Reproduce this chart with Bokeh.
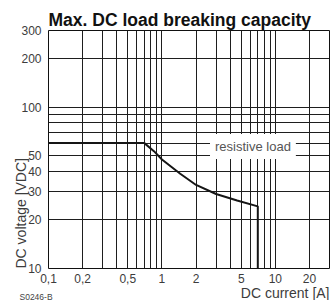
import math
from bokeh.plotting import figure
from bokeh.models import FixedTicker, Label, Title
from bokeh.embed import file_html
from bokeh.resources import INLINE

# --- data ---
current_A = [0.1, 0.7, 0.85, 1.0, 1.45, 2.0, 3.0, 4.6, 7.0, 7.0]
voltage_V = [60, 60, 53.5, 47.5, 38.7, 33.0, 29.0, 26.4, 24.3, 10]

x_ticks = [0.1, 0.2, 0.5, 1, 2, 5, 10, 20]
x_tick_labels = ["0,1", "0,2", "0,5", "1", "2", "5", "10", "20"]
y_ticks = [10, 20, 30, 40, 50, 100, 200, 300]

x_grid = [m * d for d in (0.1, 1) for m in range(1, 10)] + [10, 20, 30]
y_grid = [m * 10 for m in range(1, 10)] + [100, 200, 300]

X0, X1 = 0.1, 30
Y0, Y1 = 10, 300

FONT = "Liberation Sans"


def set_standoff(t, v, fallback=0):
    try:
        t.standoff = v
    except ValueError:
        t.standoff = fallback


p = figure(x_axis_type="log", y_axis_type="log",
           x_range=(X0, X1), y_range=(Y0, Y1),
           frame_width=281, frame_height=238,
           min_border_left=48, min_border_right=1,
           min_border_top=30, min_border_bottom=32,
           output_backend="svg", toolbar_location=None)
p.background_fill_color = "white"
p.border_fill_color = "white"
p.outline_line_color = "#111111"
p.outline_line_width = 1

p.title.text = "Max. DC load breaking capacity"
p.title.align = "left"
p.title.offset = 0
p.title.standoff = 1
p.title.text_font = FONT
p.title.text_font_style = "bold"
p.title.text_font_size = "17.5px"
p.title.text_color = "#111111"

for ax in (p.xaxis, p.yaxis):
    ax.axis_line_color = None
    ax.major_tick_line_color = None
    ax.minor_tick_line_color = None
    ax.major_label_text_font = FONT
    ax.major_label_text_font_size = "12px"
    ax.major_label_text_color = "#3c3c3c"

p.xaxis.ticker = FixedTicker(ticks=x_ticks)
p.xaxis.major_label_overrides = {t: l for t, l in zip(x_ticks, x_tick_labels)}
p.xaxis.major_label_standoff = -1

p.yaxis.ticker = FixedTicker(ticks=y_ticks)
p.yaxis.major_label_overrides = {t: str(t) for t in y_ticks}
p.yaxis.major_label_standoff = 1

p.xgrid.ticker = FixedTicker(ticks=x_grid)
p.ygrid.ticker = FixedTicker(ticks=y_grid)
for g in (p.xgrid, p.ygrid):
    g.grid_line_color = "#1e1e1e"
    g.grid_line_width = 1
    g.grid_line_alpha = 1.0

p.line(current_A, voltage_V, line_color="#151515", line_width=2)

p.add_layout(Label(x=1, y=100, x_offset=91, y_offset=-39,
                   text="resistive load",
                   text_font=FONT, text_font_size="13px",
                   text_color="#555555", text_align="center",
                   text_baseline="middle",
                   background_fill_color="white", background_fill_alpha=1.0,
                   padding=5))

# axis titles
ytitle = Title(text="DC voltage [VDC]", align="left",
               text_font=FONT, text_font_size="14px",
               text_font_style="normal", text_color="#3c3c3c")
set_standoff(ytitle, -20, 0)
p.add_layout(ytitle, "left")

xtitle = Title(text="DC current [A]", align="right",
               text_font=FONT, text_font_size="14px",
               text_font_style="normal", text_color="#3c3c3c")
set_standoff(xtitle, -5, 0)
p.add_layout(xtitle, "below")

code = Title(text="S0246-B", align="left", offset=-29, vertical_align="top",
             text_font=FONT, text_font_size="8.5px",
             text_font_style="normal", text_color="#444444")
set_standoff(code, -14, 0)
p.add_layout(code, "below")

open("out.html", "w").write(file_html(p, INLINE))
